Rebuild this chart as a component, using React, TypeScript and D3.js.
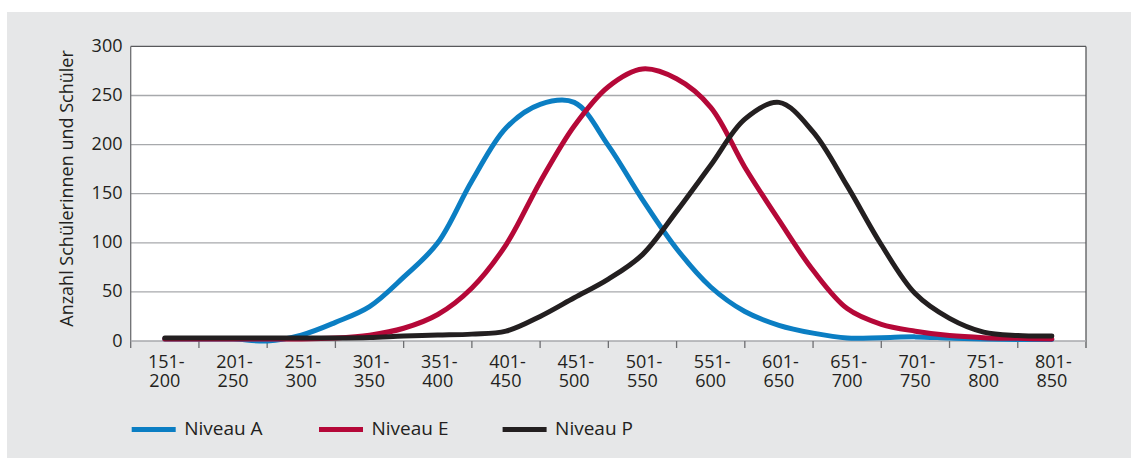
import React from "react";
import * as d3 from "d3";

// Score bands shown on the x axis (two-line labels)
const bandLabelTop = ["151-", "201-", "251-", "301-", "351-", "401-", "451-", "501-", "551-", "601-", "651-", "701-", "751-", "801-"];
const bandLabelBottom = ["200", "250", "300", "350", "400", "450", "500", "550", "600", "650", "700", "750", "800", "850"];
const bandCenters = [175, 225, 275, 325, 375, 425, 475, 525, 575, 625, 675, 725, 775, 825];
const bandEdges = [150, 200, 250, 300, 350, 400, 450, 500, 550, 600, 650, 700, 750, 800, 850];

// Score positions at which the distributions are sampled
const scorePoints = [
  175, 200, 225, 250, 275, 300, 325, 350, 375, 400, 425, 450, 475, 500,
  525, 550, 575, 600, 625, 650, 675, 700, 725, 750, 775, 800, 825,
];

const niveauA = [2, 2, 2, 0, 6, 19, 35, 65, 100, 163, 217, 241, 243, 199, 144, 94, 55, 30, 16, 8, 3, 3.4, 4.2, 3, 2, 1.5, 1.5];
const niveauE = [2, 2, 2, 2, 2, 3, 6, 13, 27, 54, 98, 162, 219, 259, 277, 267, 238, 177, 123, 72, 33, 17, 10, 5.5, 3.4, 2.7, 2];
const niveauP = [3, 3, 3, 3, 3, 3, 3.5, 5, 6, 7, 10, 25, 44, 63, 88, 132, 179, 226, 243, 213, 158, 98, 48, 23, 9, 5.5, 5];

const yTicks = [0, 50, 100, 150, 200, 250, 300];

const seriesNames = ["Niveau A", "Niveau E", "Niveau P"];
const seriesColors = ["#0b7ec3", "#b50838", "#231f20"];
const seriesValues = [niveauA, niveauE, niveauP];

const W = 1131;
const H = 459;
const plot = { left: 130.7, right: 1086, top: 46.4, bottom: 341 };
const FONT = "'Open Sans', sans-serif";
const TEXT = "#231f20";

export default function App() {
  const x = d3.scaleLinear().domain([150, 850]).range([plot.left, plot.right]);
  const y = d3.scaleLinear().domain([0, 300]).range([plot.bottom, plot.top]);

  const line = d3
    .line<number>()
    .x((_, i) => x(scorePoints[i]))
    .y((d) => y(d))
    .curve(d3.curveCatmullRom.alpha(0.5));

  const legendX = [131.7, 319, 502.6];

  return (
    <div style={{ position: "absolute", left: 0, top: 0 }}>
      <svg width={W} height={H} style={{ display: "block" }}>
        <rect x={7} y={12} width={W - 7} height={446} fill="#e6e7e8" />
        <rect
          x={plot.left}
          y={plot.top}
          width={plot.right - plot.left}
          height={plot.bottom - plot.top}
          fill="#ffffff"
        />

        {/* horizontal gridlines */}
        {yTicks.slice(1, -1).map((t) => (
          <line
            key={t}
            x1={plot.left}
            x2={plot.right}
            y1={y(t)}
            y2={y(t)}
            stroke="#a7a9ac"
            strokeWidth={1.3}
          />
        ))}

        {/* frame */}
        <line x1={plot.left} x2={plot.right} y1={y(300)} y2={y(300)} stroke="#58595b" strokeWidth={1.3} />
        <line x1={plot.right} x2={plot.right} y1={plot.top} y2={plot.bottom + 7} stroke="#58595b" strokeWidth={1.3} />
        <line x1={plot.left} x2={plot.left} y1={plot.top} y2={plot.bottom + 7} stroke="#6d6e71" strokeWidth={1.3} />
        <line x1={plot.left} x2={plot.right} y1={y(0)} y2={y(0)} stroke="#a7a9ac" strokeWidth={1.5} />

        {/* x tick marks at band edges */}
        {bandEdges.slice(1, -1).map((e) => (
          <line key={e} x1={x(e)} x2={x(e)} y1={plot.bottom} y2={plot.bottom + 7} stroke="#6d6e71" strokeWidth={1.3} />
        ))}

        {/* y tick labels */}
        {yTicks.map((t) => (
          <text
            key={t}
            x={122.5}
            y={y(t) + 5.5}
            textAnchor="end"
            fontFamily={FONT}
            fontSize={18}
            fill={TEXT}
          >
            {t}
          </text>
        ))}

        {/* x band labels, first and second line */}
        {bandCenters.map((c, i) => (
          <g key={c}>
            <text x={x(c) + 1.5} y={368.3} textAnchor="middle" fontFamily={FONT} fontSize={18} fill={TEXT}>
              {bandLabelTop[i]}
            </text>
            <text x={x(c)} y={387.3} textAnchor="middle" fontFamily={FONT} fontSize={18} fill={TEXT}>
              {bandLabelBottom[i]}
            </text>
          </g>
        ))}

        {/* y axis title */}
        <text
          transform={`translate(73,188.5) rotate(-90)`}
          textAnchor="middle"
          fontFamily={FONT}
          fontSize={18}
          fill={TEXT}
        >
          Anzahl Schülerinnen und Schüler
        </text>

        {/* distribution lines */}
        {seriesValues.map((vals, i) => (
          <path
            key={seriesNames[i]}
            d={line(vals) ?? ""}
            fill="none"
            stroke={seriesColors[i]}
            strokeWidth={5}
            strokeLinejoin="round"
            strokeLinecap="round"
          />
        ))}

        {/* legend */}
        {seriesNames.map((name, i) => (
          <g key={name}>
            <line
              x1={legendX[i]}
              x2={legendX[i] + 44}
              y1={429.5}
              y2={429.5}
              stroke={seriesColors[i]}
              strokeWidth={5}
            />
            <text
              x={legendX[i] + 52.5}
              y={434.5}
              fontFamily={FONT}
              fontSize={19}
              fill={TEXT}
            >
              {name}
            </text>
          </g>
        ))}
      </svg>
    </div>
  );
}
